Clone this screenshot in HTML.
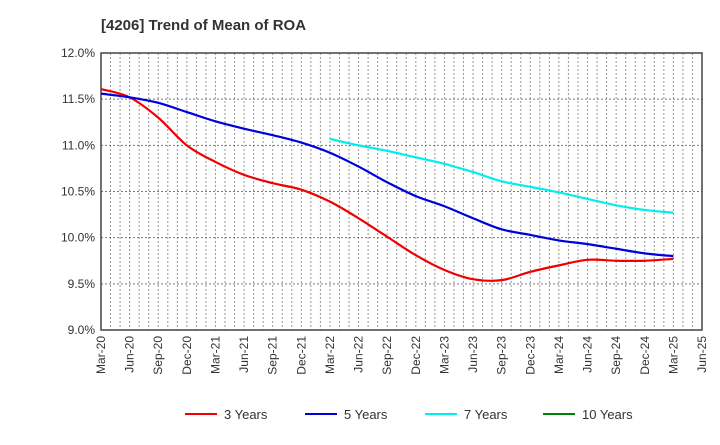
<!DOCTYPE html>
<html><head><meta charset="utf-8"><style>
body{margin:0;background:#fff;font-family:"Liberation Sans",Arial,sans-serif}
svg text{font-family:"Liberation Sans",Arial,sans-serif}
</style></head><body>
<svg id="c" width="720" height="440" xmlns="http://www.w3.org/2000/svg">
<text x="101" y="30" font-size="15" font-weight="bold" fill="#333">[4206]  Trend of Mean of ROA</text>
<g id="grid"></g><g id="axes"></g><g id="series"></g><g id="legend"></g>
</svg>
<script>
const xTicks=["Mar-20","Jun-20","Sep-20","Dec-20","Mar-21","Jun-21","Sep-21","Dec-21","Mar-22","Jun-22","Sep-22","Dec-22","Mar-23","Jun-23","Sep-23","Dec-23","Mar-24","Jun-24","Sep-24","Dec-24","Mar-25","Jun-25"];
const yTicks=[9.0,9.5,10.0,10.5,11.0,11.5,12.0];
const s3=[11.61,11.52,11.30,11.00,10.82,10.68,10.59,10.52,10.39,10.21,10.01,9.81,9.65,9.55,9.54,9.63,9.70,9.76,9.75,9.75,9.77];
const s5=[11.56,11.52,11.46,11.36,11.26,11.18,11.11,11.03,10.92,10.77,10.60,10.45,10.34,10.21,10.09,10.03,9.97,9.93,9.88,9.83,9.80];
const s7=[null,null,null,null,null,null,null,null,11.07,11.00,10.94,10.87,10.80,10.71,10.61,10.55,10.49,10.42,10.35,10.30,10.27];
const s10=[];
const names=["3 Years","5 Years","7 Years","10 Years"];
const colors=["#f00000","#0000dd","#00eeee","#008000"];
const L=101,R=702,T=53,B=330;
const xs=i=>L+(R-L)*i/21, ys=v=>B-(v-9)/3*(B-T);
const NS="http://www.w3.org/2000/svg";
function mk(p,t,a){const e=document.createElementNS(NS,t);for(const k in a)e.setAttribute(k,a[k]);p.appendChild(e);return e;}
const g=document.getElementById('grid'),ax=document.getElementById('axes'),se=document.getElementById('series'),lg=document.getElementById('legend');
for(let m=1;m<63;m++){const x=L+(R-L)*m/63;const l=mk(g,'line',{x1:x,x2:x,y1:T,y2:B,stroke:'#999','stroke-dasharray':'2,2','stroke-width':1});

}
yTicks.forEach(v=>{const y=ys(v);const l=mk(g,'line',{x1:L,x2:R,y1:y,y2:y,stroke:'#777','stroke-dasharray':'2,2','stroke-width':1});


const t=mk(ax,'text',{x:L-6,y:y+4,'text-anchor':'end','font-size':12,fill:'#333'});t.textContent=v.toFixed(1)+'%';

});
const fr=mk(ax,'rect',{x:L,y:T,width:R-L,height:B-T,fill:'none',stroke:'#444','stroke-width':1.5});


xTicks.forEach((s,i)=>{const x=xs(i);const t=mk(ax,'text',{transform:`translate(${x+4},${B+6}) rotate(-90)`,'text-anchor':'end','font-size':12,fill:'#333'});t.textContent=s;

});
function path(arr){const p=[];arr.forEach((v,i)=>{if(v!=null)p.push([xs(i),ys(v)]);});if(p.length<2)return '';
let d=`M${p[0][0]},${p[0][1]}`;for(let i=0;i<p.length-1;i++){const p0=p[i-1]||p[i],p1=p[i],p2=p[i+1],p3=p[i+2]||p2;
d+=` C${p1[0]+(p2[0]-p0[0])/6},${p1[1]+(p2[1]-p0[1])/6} ${p2[0]-(p3[0]-p1[0])/6},${p2[1]-(p3[1]-p1[1])/6} ${p2[0]},${p2[1]}`;}return d;}
[s3,s5,s7,s10].forEach((arr,k)=>{const d=path(arr);if(!d)return;const e=mk(se,'path',{d:d,fill:'none',stroke:colors[k],'stroke-width':2.2});

});
const lx=[185,305,425,543];
names.forEach((n,k)=>{const l=mk(lg,'line',{x1:lx[k],x2:lx[k]+32,y1:414,y2:414,stroke:colors[k],'stroke-width':2});


const t=mk(lg,'text',{x:lx[k]+39,y:419,'font-size':13,fill:'#333'});t.textContent=n;

});
</script>
</body></html>
